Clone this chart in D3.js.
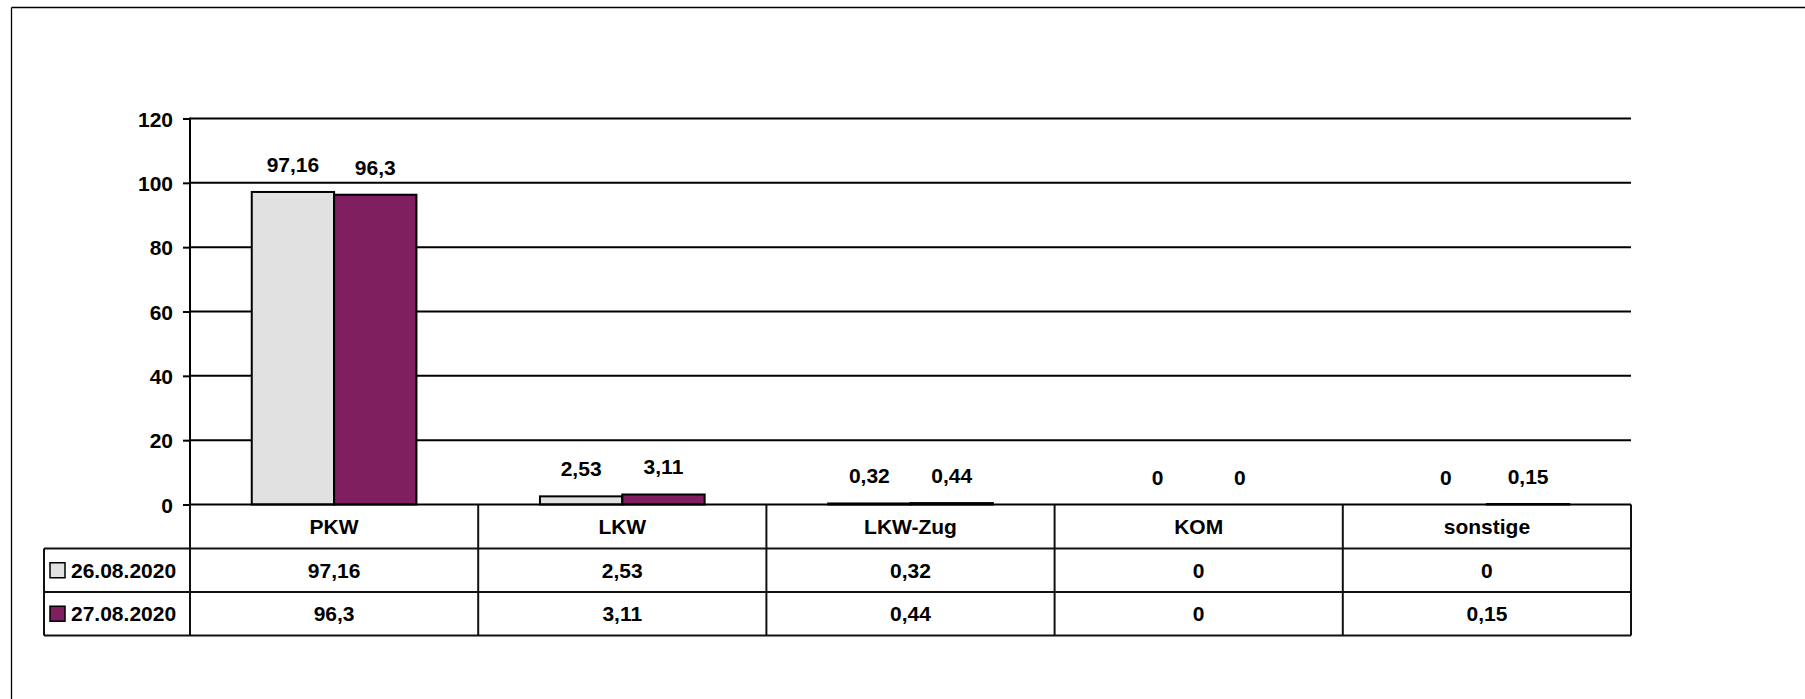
<!DOCTYPE html>
<html>
<head>
<meta charset="utf-8">
<script src="https://cdn.jsdelivr.net/npm/d3@7"></script>
<style>
html,body{margin:0;padding:0;background:#fff;overflow:hidden;}
svg{display:block;overflow:hidden;}
text{font-family:"Liberation Sans",Arial,sans-serif;font-weight:bold;fill:#000;}
</style>
</head>
<body>
<svg id="chart" width="1805" height="699"></svg>
<script>
const categories = ["PKW", "LKW", "LKW-Zug", "KOM", "sonstige"];
const seriesNames = ["26.08.2020", "27.08.2020"];
const values2608 = [97.16, 2.53, 0.32, 0, 0];
const values2708 = [96.3, 3.11, 0.44, 0, 0.15];
const yTicks = [0, 20, 40, 60, 80, 100, 120];
const colors = ["#e1e1e1", "#7f1f5f"];

(function () {
const seriesValues = [values2608, values2708];
const fmt = v => String(v).replace(".", ",");

const svg = d3.select("#chart");
const pLeft = 190, pRight = 1631, pTop = 118.5, pBottom = 504.5;
const rowH1 = 44, rowH = 43.5;
const legendLeft = 44;

// outer frame (top and left edges visible)
svg.append("line").attr("x1", 11.5).attr("x2", 1805).attr("y1", 7.5).attr("y2", 7.5)
  .attr("stroke", "#000").attr("stroke-width", 1.3);
svg.append("line").attr("x1", 11.5).attr("x2", 11.5).attr("y1", 7.5).attr("y2", 699)
  .attr("stroke", "#000").attr("stroke-width", 1.3);

const x = d3.scaleBand().domain(categories).range([pLeft, pRight]).padding(0);
const xs = d3.scaleBand().domain(seriesNames).range([0, x.bandwidth()]).paddingInner(0).paddingOuter(0.75);
const y = d3.scaleLinear().domain([0, 120]).range([pBottom, pTop]);

// gridlines
svg.append("g").selectAll("line").data(yTicks.filter(t => t > 0)).join("line")
  .attr("x1", pLeft).attr("x2", pRight)
  .attr("y1", d => y(d)).attr("y2", d => y(d))
  .attr("stroke", "#000").attr("stroke-width", 2);

// y axis
const yAxis = svg.append("g").attr("transform", `translate(${pLeft},0)`)
  .call(d3.axisLeft(y).tickValues(yTicks).tickSize(7).tickPadding(10).tickFormat(d => d));
yAxis.select(".domain").remove();
yAxis.selectAll(".tick line").attr("stroke", "#000").attr("stroke-width", 2);
yAxis.selectAll(".tick text").attr("font-size", 21).attr("dy", "0.36em")
  .attr("font-family", "'Liberation Sans',Arial,sans-serif").attr("font-weight", "bold").attr("fill", "#000");
svg.append("line").attr("x1", pLeft).attr("x2", pLeft).attr("y1", pTop - 1).attr("y2", pBottom)
  .attr("stroke", "#000").attr("stroke-width", 2);

// bars
const rows = categories.map((c, i) => ({cat: c, vals: seriesNames.map((s, j) => ({s, j, v: seriesValues[j][i]}))}));
const groups = svg.append("g").selectAll("g").data(rows).join("g")
  .attr("transform", d => `translate(${x(d.cat)},0)`);
groups.selectAll("rect").data(d => d.vals).join("rect")
  .attr("x", d => xs(d.s)).attr("width", xs.bandwidth())
  .attr("y", d => y(d.v)).attr("height", d => Math.max(0, y(0) - y(d.v)))
  .attr("fill", d => colors[d.j]).attr("stroke", "#000").attr("stroke-width", 2);
groups.selectAll("text").data(d => d.vals).join("text")
  .attr("x", d => xs(d.s) + xs.bandwidth() / 2)
  .attr("y", d => y(d.v) - 20)
  .attr("text-anchor", "middle").attr("font-size", 21)
  .text(d => fmt(d.v));

// baseline
svg.append("line").attr("x1", pLeft).attr("x2", pRight).attr("y1", pBottom).attr("y2", pBottom)
  .attr("stroke", "#000").attr("stroke-width", 2);

// data table
const tbl = svg.append("g");
const yH0 = pBottom, yH1 = pBottom + rowH1, yR1 = yH1 + rowH, yR2 = yR1 + rowH;
const lineAttrs = sel => sel.attr("stroke", "#111").attr("stroke-width", 2);
lineAttrs(tbl.append("line").attr("x1", legendLeft).attr("x2", pRight).attr("y1", yH1).attr("y2", yH1));
lineAttrs(tbl.append("line").attr("x1", legendLeft).attr("x2", pRight).attr("y1", yR1).attr("y2", yR1));
lineAttrs(tbl.append("line").attr("x1", legendLeft).attr("x2", pRight).attr("y1", yR2).attr("y2", yR2));
const vx = categories.map(c => x(c)).concat([pRight]);
tbl.selectAll("line.v").data(vx).join("line").attr("class", "v")
  .attr("x1", d => d).attr("x2", d => d).attr("y1", yH0).attr("y2", yR2).call(lineAttrs);
lineAttrs(tbl.append("line").attr("x1", legendLeft).attr("x2", legendLeft).attr("y1", yH1).attr("y2", yR2));

tbl.selectAll("text.h").data(categories).join("text").attr("class", "h")
  .attr("x", d => x(d) + x.bandwidth() / 2).attr("y", (yH0 + yH1) / 2)
  .attr("dy", "0.36em").attr("text-anchor", "middle").attr("font-size", 21)
  .text(d => d);

const rowYs = [(yH1 + yR1) / 2, (yR1 + yR2) / 2];
seriesNames.forEach((s, j) => {
  tbl.append("g").selectAll("text").data(categories).join("text")
    .attr("x", d => x(d) + x.bandwidth() / 2).attr("y", rowYs[j])
    .attr("dy", "0.36em").attr("text-anchor", "middle").attr("font-size", 21)
    .text((d, i) => fmt(seriesValues[j][i]));
  tbl.append("rect").attr("x", 50).attr("y", rowYs[j] - 7.5).attr("width", 15).attr("height", 15)
    .attr("fill", colors[j]).attr("stroke", "#000").attr("stroke-width", 1.5);
  tbl.append("text").attr("x", 71).attr("y", rowYs[j]).attr("dy", "0.36em")
    .attr("font-size", 21).text(s);
});
})();
</script>
</body>
</html>
